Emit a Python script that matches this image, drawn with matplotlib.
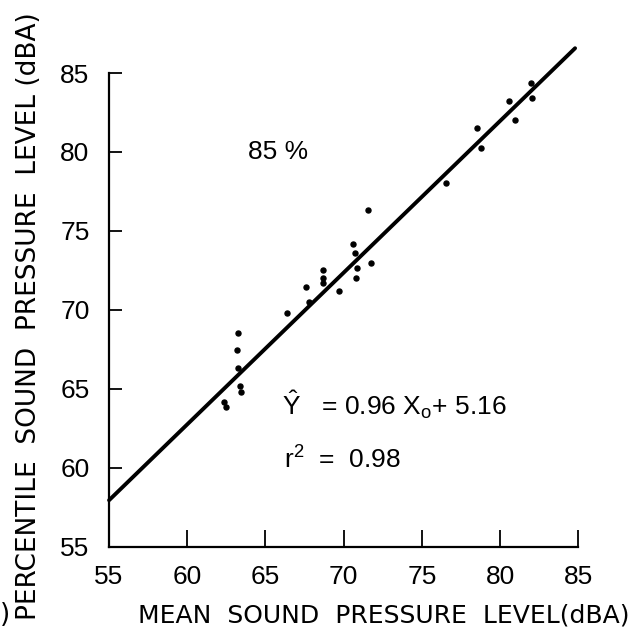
import matplotlib
matplotlib.use("Agg")
import matplotlib.pyplot as plt
import numpy as np

plt.rcParams["font.family"] = "Liberation Sans"
plt.rcParams["mathtext.fontset"] = "custom"
plt.rcParams["mathtext.rm"] = "Liberation Sans"
plt.rcParams["mathtext.it"] = "Liberation Sans"

# mean SPL (x) vs 85th percentile SPL (y)
mean_spl = [70.61, 70.74, 68.70, 68.70, 68.70, 70.88, 71.74, 70.78, 67.57,
            69.71, 67.78, 66.39, 63.24, 63.18, 63.24, 63.39, 63.43, 62.37,
            62.47, 76.54, 78.53, 78.76, 80.56, 80.95, 81.97, 82.06, 71.53]
pct_spl = [74.18, 73.63, 72.53, 72.04, 71.73, 72.68, 72.96, 72.04, 71.44,
           71.22, 70.49, 69.83, 68.56, 67.47, 66.33, 65.21, 64.79, 64.16,
           63.84, 78.06, 81.54, 80.27, 83.23, 82.03, 84.39, 83.44, 76.33]

slope, intercept = 0.96, 5.16
fit_x = [55, 84.8]
ticks = [55, 60, 65, 70, 75, 80, 85]

fig = plt.figure(figsize=(6.34, 6.37), dpi=100)
ax = fig.add_axes([0.172, 0.1413, 0.740, 0.7441])

ax.plot(mean_spl, pct_spl, "o", color="black", markersize=3.6, clip_on=False)
fx = np.array(fit_x)
ax.plot(fx, slope * fx + intercept, color="black", lw=2.8, clip_on=False,
        solid_capstyle="round")

ax.set_xlim(55, 85)
ax.set_ylim(55, 85)
ax.set_xticks(ticks)
ax.set_yticks(ticks)
ax.spines["top"].set_visible(False)
ax.spines["right"].set_visible(False)
for s in ("left", "bottom"):
    ax.spines[s].set_linewidth(1.6)
ax.tick_params(axis="x", direction="in", length=12, width=1.3, pad=13, labelsize=19)
ax.tick_params(axis="y", direction="in", length=9, width=1.3, pad=14, labelsize=19)

ax.text(63.9, 80.0, "85 %", fontsize=19, ha="left", va="center")
ax.text(66.05, 64.0, r"$\hat{\mathrm{Y}}$   = 0.96 X$_\mathrm{o}$+ 5.16",
        fontsize=19, ha="left", va="center")
ax.text(66.2, 60.5, r"r$^\mathrm{2}$  =  0.98", fontsize=19, ha="left", va="center")

fig.text(0.993, 0.034, "MEAN  SOUND  PRESSURE  LEVEL(dBA)", fontsize=18,
         family="DejaVu Sans", ha="right", va="center")
fig.text(0.046, 0.503, "PERCENTILE  SOUND  PRESSURE  LEVEL (dBA)", fontsize=19,
         family="DejaVu Sans", ha="center", va="center", rotation=90)
fig.text(0.0, 0.034, ")", fontsize=19, family="DejaVu Sans", ha="left", va="center")

fig.savefig("out.png", dpi=100)
